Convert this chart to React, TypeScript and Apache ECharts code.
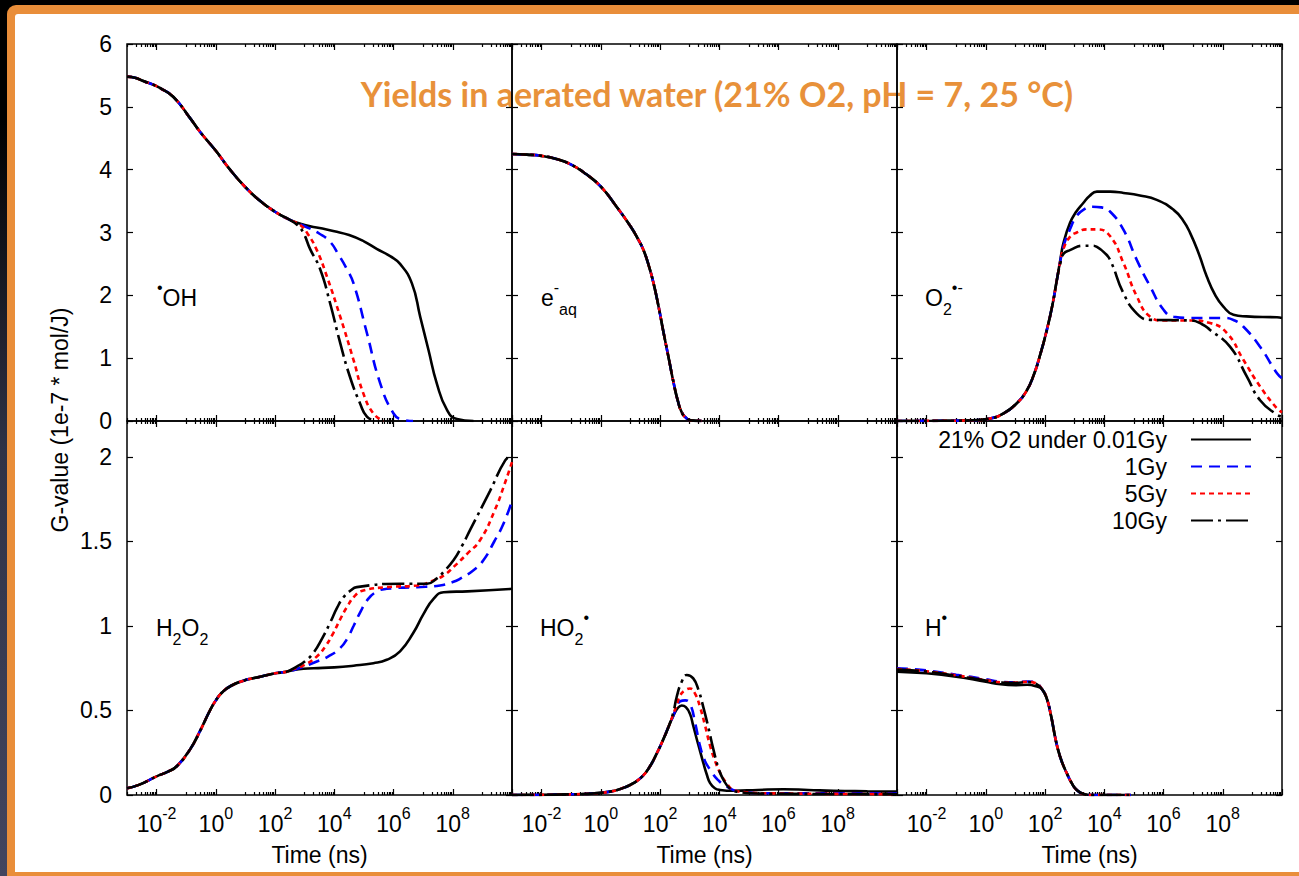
import React, { useEffect, useRef } from "react";
import * as echarts from "echarts";

const FONT = "'Liberation Sans', Arial, Helvetica, sans-serif";
const SERIES_NAMES = ["21% O2 under 0.01Gy", "1Gy", "5Gy", "10Gy"];
// x axis values are log10(time / ns)
const X_LABEL_EXPONENTS = [-2, 0, 2, 4, 6, 8];
const X_MAJOR_TICKS = [-2, 0, 2, 4, 6, 8, 10];
const X_MINOR_DECADES = [-3, -1, 1, 3, 5, 7, 9];
const Y_TICKS_TOP = [0, 1, 2, 3, 4, 5, 6];
const Y_TICKS_BOTTOM = [0, 0.5, 1, 1.5, 2];
const Y_MAX = [6, 2.213];

// ---------- •OH ----------
const OH_COMMON = [[-3, 5.48], [-2.7, 5.46], [-2.45, 5.41], [-2.1, 5.35], [-1.89, 5.3], [-1.44, 5.16], [-0.87, 4.82], [-0.53, 4.6], [0, 4.3], [0.48, 4.0], [1.0, 3.72], [1.5, 3.5], [2.0, 3.33], [2.5, 3.2]];
const OH_001 = [...OH_COMMON, [3.0, 3.12], [3.5, 3.07], [4.0, 3.02], [4.5, 2.96], [5.0, 2.86], [5.43, 2.74], [5.9, 2.62], [6.22, 2.5], [6.62, 2.19], [6.9, 1.66], [7.18, 1.13], [7.46, 0.6], [7.8, 0.18], [8.14, 0.03], [8.7, 0]];
const OH_1 = [...OH_COMMON, [3.0, 3.1], [3.5, 2.98], [3.86, 2.85], [4.14, 2.65], [4.4, 2.44], [4.65, 2.19], [5.1, 1.4], [5.55, 0.6], [6.0, 0.12], [6.3, 0.02], [6.66, 0]];
const OH_5 = [...OH_COMMON, [2.85, 3.12], [3.1, 2.98], [3.41, 2.72], [3.75, 2.3], [4.2, 1.66], [4.65, 0.97], [4.98, 0.44], [5.32, 0.12], [5.66, 0]];
const OH_10 = [...OH_COMMON, [2.75, 3.12], [2.95, 3.0], [3.18, 2.74], [3.52, 2.42], [3.86, 1.87], [4.2, 1.24], [4.53, 0.7], [4.87, 0.28], [5.1, 0.07], [5.4, 0]];

// ---------- e-aq ----------
const EAQ = [[-3, 4.25], [-2.5, 4.24], [-2, 4.22], [-1.5, 4.17], [-1, 4.08], [-0.5, 3.93], [0, 3.73], [0.5, 3.43], [1.0, 3.1], [1.25, 2.9], [1.44, 2.72], [1.62, 2.47], [1.78, 2.19], [1.95, 1.82], [2.12, 1.4], [2.3, 0.98], [2.46, 0.6], [2.6, 0.32], [2.74, 0.13], [2.9, 0.04], [3.03, 0.01], [3.4, 0]];

// ---------- O2•- ----------
const O2_COMMON = [[-3, 0], [-1.5, 0.003], [-0.5, 0.01], [0.14, 0.04], [0.6, 0.12], [1.04, 0.28], [1.35, 0.46], [1.6, 0.71], [1.85, 1.08], [2.06, 1.45], [2.25, 1.85], [2.4, 2.25]];
const O2_001 = [...O2_COMMON, [2.52, 2.58], [2.62, 2.83], [2.84, 3.15], [3.05, 3.33], [3.29, 3.47], [3.5, 3.58], [3.75, 3.65], [4.2, 3.65], [4.65, 3.63], [5.2, 3.59], [5.77, 3.52], [6.34, 3.36], [6.65, 3.2], [6.9, 2.99], [7.2, 2.65], [7.46, 2.3], [7.75, 2.0], [8.02, 1.82], [8.36, 1.69], [8.8, 1.665], [9.83, 1.65], [10, 1.64]];
const O2_1 = [...O2_COMMON, [2.52, 2.56], [2.62, 2.78], [2.84, 3.05], [3.05, 3.25], [3.29, 3.36], [3.6, 3.41], [3.9, 3.4], [4.2, 3.33], [4.65, 3.04], [5.1, 2.56], [5.55, 2.14], [6.0, 1.77], [6.34, 1.66], [6.9, 1.64], [8.02, 1.64], [8.4, 1.6], [8.7, 1.5], [9.26, 1.18], [9.83, 0.76], [10, 0.68]];
const O2_5 = [...O2_COMMON, [2.52, 2.55], [2.62, 2.74], [2.84, 2.93], [3.07, 3.0], [3.4, 3.05], [3.75, 3.05], [4.2, 2.94], [4.65, 2.51], [5.1, 1.98], [5.55, 1.66], [6.0, 1.6], [6.9, 1.6], [7.57, 1.56], [8.14, 1.4], [8.7, 0.97], [9.26, 0.55], [9.83, 0.2], [10, 0.14]];
const O2_10 = [...O2_COMMON, [2.52, 2.52], [2.62, 2.66], [2.84, 2.72], [3.29, 2.79], [3.6, 2.79], [3.75, 2.77], [4.0, 2.68], [4.2, 2.56], [4.65, 2.03], [5.1, 1.71], [5.55, 1.61], [6.9, 1.6], [7.3, 1.54], [7.57, 1.45], [8.25, 1.18], [8.81, 0.71], [9.26, 0.33], [9.83, 0.1], [10, 0.07]];

// ---------- H2O2 ----------
const H2O2_COMMON = [[-3, 0.04], [-2.6, 0.06], [-2.0, 0.11], [-1.6, 0.14], [-1.32, 0.17], [-0.87, 0.27], [-0.53, 0.38], [-0.2, 0.5], [0.0, 0.56], [0.2, 0.605], [0.5, 0.645], [1.0, 0.68], [1.5, 0.7], [2.0, 0.72], [2.4, 0.73]];
const H2O2_001 = [...H2O2_COMMON, [2.8, 0.745], [3.3, 0.75], [4.0, 0.755], [4.65, 0.765], [5.32, 0.78], [5.77, 0.8], [6.22, 0.85], [6.67, 0.96], [7.01, 1.07], [7.35, 1.16], [7.69, 1.2], [8.5, 1.205], [10, 1.22]];
const H2O2_1 = [...H2O2_COMMON, [2.8, 0.75], [3.41, 0.79], [3.8, 0.82], [4.2, 0.87], [4.45, 0.93], [4.65, 1.0], [4.9, 1.09], [5.1, 1.15], [5.4, 1.2], [5.77, 1.22], [6.79, 1.23], [7.57, 1.24], [8.0, 1.26], [8.25, 1.28], [8.7, 1.33], [9.04, 1.39], [9.4, 1.5], [9.7, 1.6], [10, 1.74]];
const H2O2_5 = [...H2O2_COMMON, [2.62, 0.745], [3.0, 0.77], [3.41, 0.82], [3.7, 0.88], [3.97, 0.96], [4.2, 1.04], [4.42, 1.11], [4.7, 1.18], [4.98, 1.21], [5.77, 1.23], [6.79, 1.24], [7.35, 1.27], [7.7, 1.3], [8.03, 1.35], [8.5, 1.43], [8.93, 1.51], [9.43, 1.69], [9.75, 1.84], [10, 1.97]];
const H2O2_10 = [...H2O2_COMMON, [2.73, 0.76], [3.0, 0.79], [3.29, 0.84], [3.6, 0.93], [3.86, 1.02], [4.1, 1.11], [4.31, 1.17], [4.55, 1.21], [4.76, 1.23], [6.22, 1.25], [7.13, 1.25], [7.45, 1.28], [7.69, 1.32], [8.03, 1.39], [8.3, 1.47], [8.59, 1.57], [9.26, 1.8], [9.77, 1.98], [10, 2.01]];

// ---------- HO2• ----------
const HO2_COMMON = [[-3, 0], [-2, 0.001], [-1, 0.004], [-0.59, 0.006], [0.31, 0.02], [0.8, 0.045], [1.1, 0.07], [1.4, 0.11], [1.66, 0.17], [1.9, 0.25], [2.11, 0.33], [2.3, 0.41]];
const HO2_001 = [...HO2_COMMON, [2.45, 0.47], [2.6, 0.515], [2.73, 0.53], [2.87, 0.52], [3.01, 0.48], [3.12, 0.41], [3.24, 0.33], [3.35, 0.26], [3.46, 0.19], [3.58, 0.12], [3.69, 0.07], [3.85, 0.04], [4.03, 0.03], [4.48, 0.025], [5.3, 0.03], [6.17, 0.034], [7.0, 0.03], [7.86, 0.025], [9.0, 0.022], [10, 0.02]];
const HO2_1 = [...HO2_COMMON, [2.45, 0.47], [2.56, 0.52], [2.68, 0.555], [2.85, 0.56], [3.01, 0.54], [3.18, 0.43], [3.35, 0.29], [3.52, 0.2], [3.69, 0.15], [3.95, 0.09], [4.25, 0.05], [4.7, 0.02], [5.6, 0.01], [10, 0.01]];
const HO2_5 = [...HO2_COMMON, [2.45, 0.48], [2.56, 0.53], [2.68, 0.59], [2.85, 0.62], [3.01, 0.63], [3.18, 0.6], [3.35, 0.52], [3.52, 0.41], [3.69, 0.29], [3.86, 0.2], [4.03, 0.13], [4.25, 0.07], [4.48, 0.03], [5.0, 0.015], [5.6, 0.01], [10, 0.005]];
const HO2_10 = [...HO2_COMMON, [2.45, 0.49], [2.56, 0.58], [2.73, 0.67], [2.9, 0.71], [3.12, 0.69], [3.3, 0.62], [3.46, 0.52], [3.63, 0.4], [3.8, 0.27], [3.97, 0.16], [4.14, 0.09], [4.35, 0.04], [4.59, 0.02], [5.5, 0.008], [10, 0.005]];

// ---------- H• ----------
const H_DROP = [[1.9, 0.625], [2.05, 0.575], [2.2, 0.47], [2.32, 0.36], [2.42, 0.28], [2.56, 0.2], [2.73, 0.13], [2.9, 0.07], [3.07, 0.03], [3.3, 0.006], [3.6, 0], [4.9, 0]];
const H_001 = [[-3, 0.73], [-2, 0.72], [-1, 0.7], [0, 0.67], [0.5, 0.655], [1.0, 0.65], [1.4, 0.652], [1.7, 0.643], ...H_DROP];
const H_1 = [[-3, 0.75], [-2, 0.737], [-1, 0.712], [0, 0.685], [0.5, 0.67], [1.0, 0.667], [1.4, 0.672], [1.7, 0.662], ...H_DROP];
const H_5 = [[-3, 0.745], [-2, 0.732], [-1, 0.708], [0, 0.68], [0.5, 0.667], [1.0, 0.665], [1.4, 0.67], [1.7, 0.66], ...H_DROP];
const H_10 = [[-3, 0.742], [-2, 0.73], [-1, 0.705], [0, 0.678], [0.5, 0.665], [1.0, 0.663], [1.4, 0.668], [1.7, 0.657], ...H_DROP];

const PANELS = [
  { col: 0, row: 0, label: "{sup|•}OH", lx: 157, curves: [OH_001, OH_1, OH_5, OH_10] },
  { col: 1, row: 0, label: "e{sup|-}{sub|aq}", lx: 541, curves: [EAQ, EAQ, EAQ, EAQ] },
  { col: 2, row: 0, label: "O{sub|2}{sup|•-}", lx: 925, curves: [O2_001, O2_1, O2_5, O2_10] },
  { col: 0, row: 1, label: "H{sub|2}O{sub|2}", lx: 156, curves: [H2O2_001, H2O2_1, H2O2_5, H2O2_10] },
  { col: 1, row: 1, label: "HO{sub|2}{sup|•}", lx: 540, curves: [HO2_001, HO2_1, HO2_5, HO2_10] },
  { col: 2, row: 1, label: "H{sup|•}", lx: 925, curves: [H_001, H_1, H_5, H_10] },
];

const CURVE_STYLES = [
  { color: "#000000", type: "solid" as any },
  { color: "#0000ff", type: [11, 7] as any },
  { color: "#ff0000", type: [5, 4] as any },
  { color: "#000000", type: [22, 5, 3, 5] as any },
];

const GRID_LEFT = [127, 512, 897];
const GRID_TOP = [44, 421];
const GRID_H = [377, 374];
const LABEL_Y = [298, 628];

function buildOption() {
  const minorTicks: number[] = [];
  X_MINOR_DECADES.forEach((e) => {
    for (let k = 1; k <= 9; k++) minorTicks.push(e + Math.log10(k));
  });
  const grids: any[] = [];
  const xAxes: any[] = [];
  const yAxes: any[] = [];
  const series: any[] = [];
  const graphics: any[] = [];
  const tickLine = { color: "#000", width: 1.2 };

  PANELS.forEach((p, i) => {
    grids.push({
      left: GRID_LEFT[p.col],
      top: GRID_TOP[p.row],
      width: 385,
      height: GRID_H[p.row],
      show: true,
      borderColor: "#000",
      borderWidth: 1.5,
      backgroundColor: "transparent",
    });
    const xBase = {
      type: "value",
      gridIndex: i,
      min: -3,
      max: 10,
      splitLine: { show: false },
      axisLine: { show: false, onZero: false },
    };
    const mainX = xAxes.length;
    const showXLabels = p.row === 1;
    xAxes.push({
      ...xBase,
      position: "bottom",
      axisTick: { inside: true, length: 6, lineStyle: tickLine, customValues: X_MAJOR_TICKS },
      axisLabel: showXLabels
        ? {
            show: true,
            customValues: X_LABEL_EXPONENTS,
            margin: 10,
            formatter: (v: number) => `{b|10}{sup|${v}}`,
            rich: {
              b: { fontSize: 23, fontFamily: FONT, color: "#000", lineHeight: 30, verticalAlign: "bottom" },
              sup: { fontSize: 16, fontFamily: FONT, color: "#000", lineHeight: 16, verticalAlign: "top" },
            },
          }
        : { show: false },
      name: showXLabels ? "Time (ns)" : "",
      nameLocation: "middle",
      nameGap: 48,
      nameTextStyle: { fontSize: 23, fontFamily: FONT, color: "#000" },
    });
    xAxes.push({
      ...xBase,
      position: "bottom",
      axisTick: { inside: true, length: 3, lineStyle: tickLine, customValues: minorTicks },
      axisLabel: { show: false },
    });
    xAxes.push({
      ...xBase,
      position: "top",
      axisTick: { inside: true, length: 6, lineStyle: tickLine, customValues: X_MAJOR_TICKS },
      axisLabel: { show: false },
    });
    xAxes.push({
      ...xBase,
      position: "top",
      axisTick: { inside: true, length: 3, lineStyle: tickLine, customValues: minorTicks },
      axisLabel: { show: false },
    });
    const yTicks = p.row === 0 ? Y_TICKS_TOP : Y_TICKS_BOTTOM;
    const yBase = {
      type: "value",
      gridIndex: i,
      min: 0,
      max: Y_MAX[p.row],
      splitLine: { show: false },
      axisLine: { show: false, onZero: false },
      axisTick: { inside: true, length: 6, lineStyle: tickLine, customValues: yTicks },
    };
    const mainY = yAxes.length;
    yAxes.push({
      ...yBase,
      position: "left",
      axisLabel:
        p.col === 0
          ? { show: true, customValues: yTicks, margin: 15, fontSize: 23, fontFamily: FONT, color: "#000" }
          : { show: false },
    });
    yAxes.push({ ...yBase, position: "right", axisLabel: { show: false } });

    p.curves.forEach((data, k) => {
      series.push({
        type: "line",
        name: SERIES_NAMES[k],
        xAxisIndex: mainX,
        yAxisIndex: mainY,
        data,
        showSymbol: false,
        symbol: "none",
        smooth: 0.5,
        silent: true,
        z: 2 + k,
        lineStyle: { color: CURVE_STYLES[k].color, width: 2.6, type: CURVE_STYLES[k].type },
        itemStyle: { color: CURVE_STYLES[k].color },
      });
    });

    graphics.push({
      type: "text",
      x: p.lx,
      y: LABEL_Y[p.row],
      z: 10,
      style: {
        text: p.label,
        fontSize: 23,
        fontFamily: FONT,
        fill: "#000",
        align: "left",
        verticalAlign: "middle",
        rich: {
          sup: { fontSize: 16, fontFamily: FONT, fill: "#000", lineHeight: 16, verticalAlign: "top" },
          sub: { fontSize: 16, fontFamily: FONT, fill: "#000", lineHeight: 16, verticalAlign: "bottom" },
        },
        lineHeight: 38,
      },
    });
  });

  graphics.push({
    type: "text",
    x: 60,
    y: 420,
    rotation: Math.PI / 2,
    style: {
      text: "G-value (1e-7 * mol/J)",
      fontSize: 23,
      fontFamily: FONT,
      fill: "#000",
      align: "center",
      verticalAlign: "middle",
    },
  });
  graphics.push({
    type: "text",
    x: 717,
    y: 93,
    z: -10,
    style: {
      text: "Yields in aerated water (21% O2, pH = 7, 25 °C)",
      fontSize: 34,
      fontWeight: "bold",
      fontFamily: "Lato, 'Open Sans', sans-serif",
      fill: "#E8913A",
      align: "center",
      verticalAlign: "middle",
    },
  });

  return {
    animation: false,
    backgroundColor: "transparent",
    grid: grids,
    xAxis: xAxes,
    yAxis: yAxes,
    series,
    graphic: graphics,
    legend: {
      data: SERIES_NAMES,
      orient: "vertical",
      align: "right",
      right: 47,
      top: 428,
      padding: 0,
      itemWidth: 60,
      itemHeight: 14,
      itemGap: 4,
      selectedMode: false,
      itemStyle: { opacity: 0 },
      textStyle: { fontSize: 23, fontFamily: FONT, color: "#000", lineHeight: 20, padding: [0, 19, 0, 0] },
    },
  };
}

export default function App() {
  const ref = useRef<HTMLDivElement>(null);
  useEffect(() => {
    const chart = echarts.init(ref.current!, null, { renderer: "svg", width: 1299, height: 876 });
    chart.setOption(buildOption() as any);
    return () => chart.dispose();
  }, []);
  return (
    <div
      style={{
        position: "absolute",
        left: 0,
        top: 0,
        width: 1299,
        height: 876,
        overflow: "hidden",
        background: "linear-gradient(to bottom, #000 0px, #000 120px, #2f3246 450px, #42455f 876px)",
      }}
    >
      <div style={{ position: "absolute", left: 0, top: 0, width: 1299, height: 5, background: "#000" }} />
      <div style={{ position: "absolute", left: 7, top: 5, width: 1320, height: 900, background: "#E98E3A", borderTopLeftRadius: 9 }} />
      <div style={{ position: "absolute", left: 15, top: 14, width: 1310, height: 858, background: "#fff", borderTopLeftRadius: 3 }} />
      <div ref={ref} style={{ position: "absolute", left: 0, top: 0, width: 1299, height: 876 }} />
    </div>
  );
}
